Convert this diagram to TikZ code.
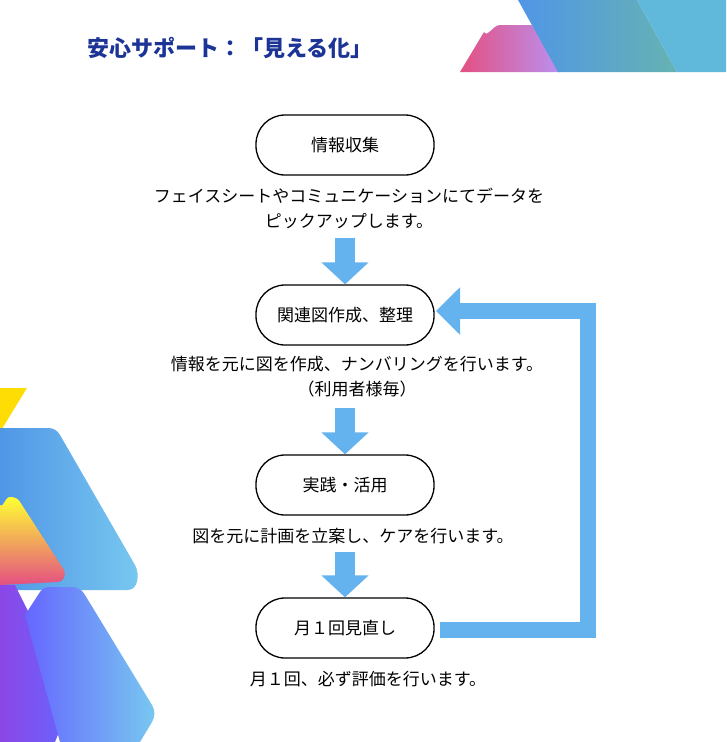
\documentclass[tikz,border=0pt]{standalone}
\usepackage{fontspec}
\setmainfont{Noto Sans CJK JP}
\usetikzlibrary{arrows.meta}
\definecolor{ttlblue}{RGB}{28,52,150}
\definecolor{arrblue}{RGB}{100,178,238}
\definecolor{decoblue}{RGB}{80,150,230}
\definecolor{decocyan}{RGB}{120,200,240}
\definecolor{decopink}{RGB}{228,80,130}
\definecolor{decoviolet}{RGB}{140,70,230}

\begin{document}
\begin{tikzpicture}[x=1pt, y=-1pt,
    stage/.style={draw=black, line width=1.3pt, rounded corners=29pt, minimum width=178pt, minimum height=60pt, font=\fontsize{17}{19}\selectfont},
    desc/.style={align=center, font=\fontsize{17}{25}\selectfont},
    flow/.style={arrblue, line width=20pt, -{Triangle[length=22pt,width=46pt]}}]
    \useasboundingbox (0,0) rectangle (726,742);

    % decoration top right
    \shade[left color=decopink, right color=decoviolet!60] (460,72) -- (484,32) to[out=-60,in=180] (500,25) -- (532,25) -- (560,72) -- cycle;
    \shade[left color=decoblue, right color=teal!60] (518,0) -- (558,72) -- (677,72) -- (637,0) -- cycle;
    \fill[decocyan!80!teal] (637,0) -- (677,72) -- (726,72) -- (726,0) -- cycle;

    % decoration left
    \fill[yellow!80!orange] (0,388) -- (27,388) -- (0,432) -- cycle;
    \shade[left color=decoblue, right color=decocyan] (0,428) -- (48,428) to[out=0,in=120] (60,435) -- (135,565) to[out=-60,in=0] (128,590) -- (0,590) -- cycle;
    \shade[top color=yellow!80, bottom color=decopink] (0,505) to[out=-60,in=180] (10,497) to[out=0,in=120] (20,502) -- (64,570) to[out=-60,in=0] (58,582) -- (0,585) -- cycle;
    \shade[left color=decoviolet, right color=blue!60] (0,585) -- (15,585) -- (67,690) to[out=-60,in=60] (67,712) -- (55,742) -- (0,742) -- cycle;
    \shade[left color=blue!60, right color=decocyan] (25,615) -- (40,592) to[out=60,in=180] (55,587) -- (72,587) to[out=0,in=120] (85,595) -- (152,705) to[out=-60,in=60] (152,722) -- (140,742) -- (60,742) -- cycle;

    % title
    \node[anchor=west, ttlblue, font=\bfseries\fontsize{22}{24}\selectfont] (ttl) at (84,48) {安心サポート：「見える化」};

    % stages
    \node[stage] (s1) at (345,145) {情報収集};
    \node[stage] (s2) at (345,315) {関連図作成、整理};
    \node[stage] (s3) at (345,485) {実践・活用};
    \node[stage] (s4) at (345,628) {月１回見直し};

    \node[desc] (d1) at (349,208) {フェイスシートやコミュニケーションにてデータを\\ピックアップします。};
    \node[desc] (d2) at (357,377) {情報を元に図を作成、ナンバリングを行います。\\（利用者様毎）};
    \node[desc] (d3) at (353,536) {図を元に計画を立案し、ケアを行います。};
    \node[desc] (d4) at (368,679) {月１回、必ず評価を行います。};

    \coordinate (a1) at (345,238);
    \coordinate (a2) at (345,408);
    \coordinate (a3) at (345,552);
    \draw[flow] (a1) -- (s2.north);
    \draw[flow] (a2) -- (s3.north);
    \draw[flow] (a3) -- (s4.north);

    % feedback loop
    \coordinate (l0) at (440,630);
    \coordinate (r1) at (588,630);
    \coordinate (l1) at (436,311);
    \draw[arrblue, line width=16pt, -{Triangle[length=24pt,width=46pt]}] (l0) -- (r1) |- (l1);
\end{tikzpicture}
\end{document}
